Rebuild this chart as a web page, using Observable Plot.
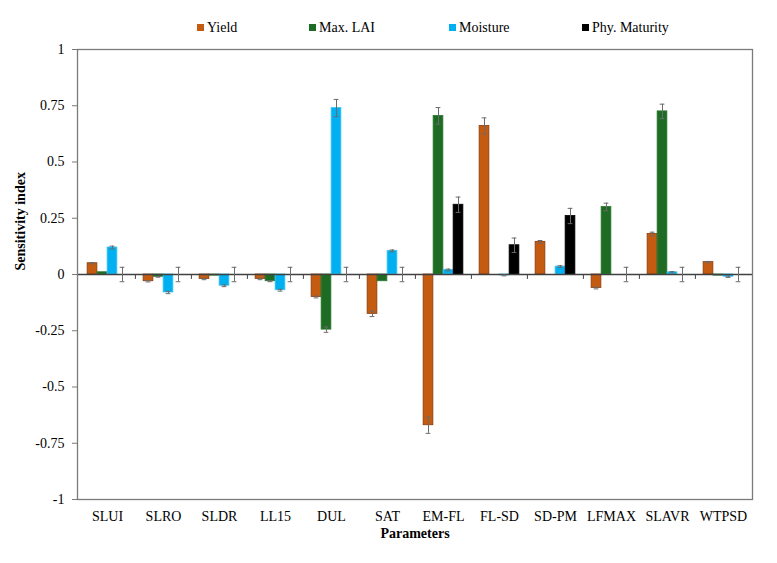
<!DOCTYPE html>
<html>
<head>
<meta charset="utf-8">
<script src="https://cdn.jsdelivr.net/npm/d3@7"></script>
<script src="https://cdn.jsdelivr.net/npm/@observablehq/plot@0.6"></script>
<style>
  body { margin: 0; background: #fff; font-family: "Liberation Serif", "Liberation Sans", Arial, sans-serif; }
  #legend { position: relative; height: 40px; font-size: 14px; color: #000; }
  .item { position: absolute; top: 19px; display: flex; align-items: center; white-space: nowrap; line-height: 17px; }
  .sw { width: 7px; height: 7px; margin-right: 3px; display: inline-block; }
</style>
</head>
<body>
<div id="legend"></div>
<div id="chart"></div>
<script>
// Sensitivity indices of model parameters for four outputs, with error bars
const categories = ["SLUI", "SLRO", "SLDR", "LL15", "DUL", "SAT", "EM-FL", "FL-SD", "SD-PM", "LFMAX", "SLAVR", "WTPSD"];
const seriesNames = ["Yield", "Max. LAI", "Moisture", "Phy. Maturity"];
const seriesColors = ["#C55A11", "#1E6B24", "#00B0F0", "#000000"];
const seriesStrokes = ["#8A3B0A", "#2A7A30", "#3CC3F5", "#000000"];

const yieldVals = [0.05, -0.03, -0.02, -0.02, -0.10, -0.175, -0.67, 0.66, 0.145, -0.06, 0.18, 0.055];
const yieldErr  = [0.003, 0.003, 0.003, 0.003, 0.004, 0.012, 0.036, 0.036, 0.006, 0.004, 0.008, 0.003];
const laiVals   = [0.01, -0.01, -0.005, -0.03, -0.245, -0.03, 0.705, 0, 0, 0.30, 0.725, -0.005];
const laiErr    = [0, 0.002, 0, 0.002, 0.012, 0, 0.037, 0, 0, 0.017, 0.032, 0];
const moistVals = [0.12, -0.08, -0.05, -0.07, 0.74, 0.105, 0.02, -0.004, 0.035, 0, 0.01, -0.01];
const moistErr  = [0.006, 0.005, 0.004, 0.004, 0.038, 0.004, 0.004, 0.002, 0.004, 0, 0.003, 0.003];
const matVals   = [0, 0, 0, 0, 0, 0, 0.31, 0.13, 0.26, 0, 0, 0];
const matErr    = [0.032, 0.032, 0.032, 0.032, 0.032, 0.032, 0.034, 0.032, 0.034, 0.032, 0.032, 0.032];

const yTicks = [-1, -0.75, -0.5, -0.25, 0, 0.25, 0.5, 0.75, 1];

const valueSets = [yieldVals, laiVals, moistVals, matVals];
const errorSets = [yieldErr, laiErr, moistErr, matErr];

// long table: one row per parameter and output
const rows = [];
seriesNames.forEach((s, si) => {
  categories.forEach((c, ci) => {
    rows.push({param: c, series: s, si, value: valueSets[si][ci], err: errorSets[si][ci]});
  });
});

// legend
const legend = document.getElementById("legend");
const legendLeft = [197, 309, 449, 582];
seriesNames.forEach((s, i) => {
  const it = document.createElement("div");
  it.className = "item";
  it.style.left = legendLeft[i] + "px";
  it.innerHTML = `<span class="sw" style="background:${seriesColors[i]}"></span><span>${s}</span>`;
  legend.appendChild(it);
});

const W = 777, H = 523, mL = 77, mR = 25, mT = 9, mB = 64;
const bw = (W - mL - mR) / categories.length;
const barW = 10;
const inset = (bw - barW) / 2;
const capInset = (bw - 5) / 2;
const font = "'Liberation Serif', 'Liberation Sans', Arial, sans-serif";

const marks = [];
seriesNames.forEach((s, i) => {
  const data = rows.filter(r => r.si === i);
  marks.push(Plot.barY(data, {
    x: "param", y: "value",
    fill: seriesColors[i], stroke: seriesStrokes[i], strokeWidth: 0.8,
    insetLeft: inset, insetRight: inset, dx: (i - 1.5) * barW
  }));
});

// category axis drawn along zero with tick marks at band boundaries
marks.push(Plot.ruleY([0], {stroke: "#404040", strokeWidth: 1.4}));
marks.push(Plot.ruleX(categories.slice(1), {x: d => d, y1: 0, y2: -0.022, dx: -bw / 2, stroke: "#404040", strokeWidth: 1}));

// error bars with caps
seriesNames.forEach((s, i) => {
  const data = rows.filter(r => r.si === i && r.err > 0);
  const dx = (i - 1.5) * barW;
  marks.push(Plot.ruleX(data, {x: "param", y1: d => d.value - d.err, y2: d => d.value + d.err, dx, stroke: "#6b6b6b", strokeWidth: 1}));
  marks.push(Plot.tickY(data, {x: "param", y: d => d.value - d.err, dx, stroke: "#6b6b6b", strokeWidth: 1, insetLeft: capInset, insetRight: capInset}));
  marks.push(Plot.tickY(data, {x: "param", y: d => d.value + d.err, dx, stroke: "#6b6b6b", strokeWidth: 1, insetLeft: capInset, insetRight: capInset}));
});

marks.push(Plot.frame({stroke: "#7a7a7a", strokeWidth: 1.3}));
marks.push(Plot.axisY({ticks: yTicks, tickFormat: d => String(d), tickSize: 5, tickPadding: 8, stroke: "#7a7a7a", label: null, fontSize: 14, fontFamily: font}));
marks.push(Plot.axisX({tickSize: 0, tickPadding: 12, label: null, fontSize: 14, fontFamily: font}));
marks.push(Plot.text(["Parameters"], {frameAnchor: "bottom", dy: 38, text: d => d, fontWeight: "bold", fontSize: 14, fontFamily: font}));
marks.push(Plot.text(["Sensitivity index"], {frameAnchor: "left", dx: -57, dy: -4, rotate: -90, text: d => d, fontWeight: "bold", fontSize: 14, fontFamily: font}));

const chart = Plot.plot({
  width: W, height: H,
  marginLeft: mL, marginRight: mR, marginTop: mT, marginBottom: mB,
  style: {fontFamily: font, fontSize: "14px", color: "#000", background: "#fff", overflow: "visible"},
  x: {domain: categories, padding: 0},
  y: {domain: [-1, 1]},
  marks
});
document.getElementById("chart").appendChild(chart);
</script>
</body>
</html>
